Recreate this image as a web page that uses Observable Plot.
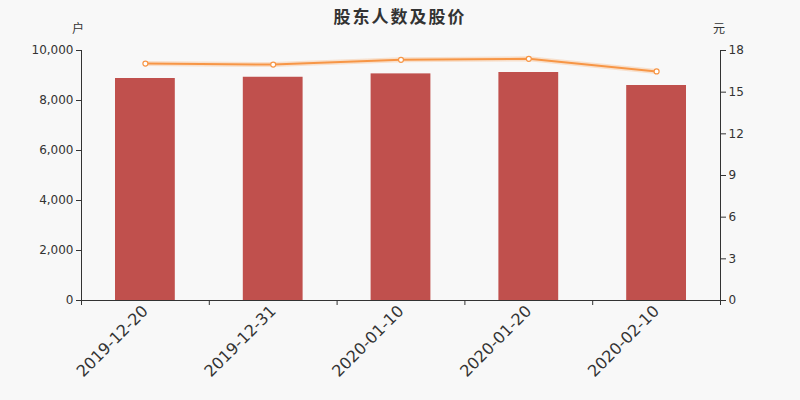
<!DOCTYPE html>
<html>
<head>
<meta charset="utf-8">
<script src="https://cdn.jsdelivr.net/npm/d3@7"></script>
<script src="https://cdn.jsdelivr.net/npm/@observablehq/plot@0.6"></script>
<style>
  html, body { margin: 0; padding: 0; background: #f8f8f8; }
  #wrap { position: relative; width: 800px; height: 400px; font-family: "DejaVu Sans", "Noto Sans CJK SC", sans-serif; color: #333; }
  #title { position: absolute; left: 0; width: 800px; top: 3px; text-align: center; font-size: 17px; font-weight: bold; letter-spacing: 2px; font-family: "Noto Sans CJK SC", sans-serif; color: #333; }
  .unit { position: absolute; top: 19px; font-size: 12px; font-family: "Noto Sans CJK SC", sans-serif; color: #333; }
  svg { background: #f8f8f8; }
</style>
</head>
<body>
<div id="wrap">
  <div id="title">股东人数及股价</div>
  <div class="unit" style="left:72px">户</div>
  <div class="unit" style="left:713px">元</div>
  <div id="chart"></div>
</div>
<script>
const dates = ["2019-12-20", "2019-12-31", "2020-01-10", "2020-01-20", "2020-02-10"];
const holders = [8880, 8930, 9065, 9120, 8600];
const prices = [17.06, 16.99, 17.33, 17.40, 16.49];
const holderTicks = [0, 2000, 4000, 6000, 8000, 10000];
const priceTicks = [0, 3, 6, 9, 12, 15, 18];

const holderMax = 10000;
const priceMax = 18;
const k = holderMax / priceMax;

const data = dates.map((d, i) => ({date: d, holders: holders[i], price: prices[i], priceScaled: prices[i] * k}));

const width = 800, height = 400;
const marginLeft = 81, marginRight = 80, marginTop = 50, marginBottom = 100;
const bw = (width - marginLeft - marginRight) / dates.length;

const chart = Plot.plot({
  width, height, marginLeft, marginRight, marginTop, marginBottom,
  style: {background: "#f8f8f8", fontFamily: "DejaVu Sans, sans-serif", color: "#333"},
  x: {type: "band", domain: dates, padding: 0, round: false, axis: null},
  y: {domain: [0, holderMax], axis: null},
  marks: [
    Plot.barY(data, {x: "date", y: "holders", fill: "#c0504d", insetLeft: 34, insetRight: 34}),
    Plot.line(data, {x: "date", y: "priceScaled", stroke: "#f79646", strokeWidth: 5, strokeOpacity: 0.25}),
    Plot.line(data, {x: "date", y: "priceScaled", stroke: "#f79646", strokeWidth: 2}),
    Plot.dot(data, {x: "date", y: "priceScaled", r: 2.5, fill: "white", stroke: "#f79646", strokeWidth: 1.2}),
    Plot.ruleY([0], {stroke: "#333", strokeWidth: 1}),
    Plot.frame({anchor: "left", stroke: "#333", strokeOpacity: 1}),
    Plot.frame({anchor: "right", stroke: "#333", strokeOpacity: 1}),
    Plot.axisY({anchor: "left", ticks: holderTicks, tickFormat: d3.format(","), tickSize: 5, tickPadding: 3, fontSize: 12, stroke: "#333", strokeOpacity: 1, label: null}),
    Plot.axisY({anchor: "right", ticks: priceTicks.map(p => p * k), tickFormat: d => String(Math.round(d / k)), tickSize: 5, tickPadding: 3, fontSize: 12, stroke: "#333", strokeOpacity: 1, label: null}),
    Plot.axisX({ticks: dates, tickFormat: null, tickSize: 5, dx: -bw / 2, stroke: "#333", strokeOpacity: 1, label: null}),
    Plot.axisX({ticks: [dates[dates.length - 1]], tickFormat: null, tickSize: 5, dx: bw / 2, stroke: "#333", strokeOpacity: 1, label: null}),
    Plot.axisX({ticks: dates, tickSize: 0, tickPadding: 8, tickRotate: -45, fontSize: 16, dx: 0, fill: "#333", label: null})
  ]
});
document.getElementById("chart").appendChild(chart);
</script>
</body>
</html>
